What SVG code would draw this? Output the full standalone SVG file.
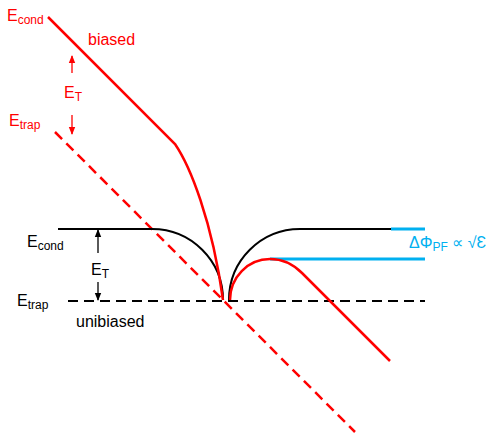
<svg xmlns="http://www.w3.org/2000/svg" width="491" height="434" viewBox="0 0 491 434">
<defs>
<style>
text{font-family:"Liberation Sans",Arial,sans-serif;font-size:16px}
.r{fill:#FF0000}.k{fill:#000}.b{fill:#00B0F0}
.sub{font-size:12px}
.rl{stroke:#FF0000;fill:none;stroke-width:2.5}
.kl{stroke:#000;fill:none;stroke-width:2}
.bl{stroke:#00B0F0;fill:none;stroke-width:3}
.dash{stroke-dasharray:10 6}
</style>
<marker id="ar" viewBox="0 0 8 8" refX="7" refY="4" markerWidth="8" markerHeight="8" markerUnits="userSpaceOnUse" orient="auto"><path d="M0,0.8 L8,4 L0,7.2 z" fill="#FF0000"/></marker>
<marker id="ak" viewBox="0 0 8 8" refX="7" refY="4" markerWidth="8" markerHeight="8" markerUnits="userSpaceOnUse" orient="auto"><path d="M0,0.8 L8,4 L0,7.2 z" fill="#000"/></marker>
</defs>
<g id="connectors">
<path class="kl dash" d="M68,301 H425" stroke-width="2.5"/>
<path class="rl dash" d="M55,132 L355,432"/>
<path class="kl" d="M58,229 H152" stroke-width="3"/>
<path class="kl" d="M152,229 A71,71 0 0 1 223,300"/>
<path class="kl" d="M229,300 A71,71 0 0 1 300,229"/>
<path class="kl" d="M300,229 H391" stroke-width="3"/>
<path class="bl" d="M391,229 H425"/>
<path class="bl" d="M270,259 H425"/>
<path class="rl" d="M48,17 L175,144 C190,166 212,220 223,300"/>
<path class="rl" d="M230,300 A40,41 0 0 1 270,259 Q288,259 302,273 L390,361"/>
<path stroke="#FF0000" stroke-width="1.3" d="M72,73 V56" marker-end="url(#ar)"/>
<path stroke="#FF0000" stroke-width="1.3" d="M72,115 V134" marker-end="url(#ar)"/>
<path stroke="#000" stroke-width="1.3" d="M98,253 V230" marker-end="url(#ak)"/>
<path stroke="#000" stroke-width="1.3" d="M98,282 V300" marker-end="url(#ak)"/>
</g>
<g id="biased-labels">
<text class="r" x="7" y="21">E<tspan class="sub" dy="3">cond</tspan></text>
<text class="r" x="88" y="45" font-size="16.5">biased</text>
<text class="r" x="64" y="98">E<tspan class="sub" dy="3">T</tspan></text>
<text class="r" x="9" y="126">E<tspan class="sub" dy="3">trap</tspan></text>
</g>
<g id="unbiased-labels">
<text class="k" x="27" y="247">E<tspan class="sub" dy="3">cond</tspan></text>
<text class="k" x="91" y="275">E<tspan class="sub" dy="3">T</tspan></text>
<text class="k" x="17" y="306">E<tspan class="sub" dy="3">trap</tspan></text>
<text class="k" x="76" y="327" font-size="17">unibiased</text>
</g>
<g id="barrier-label">
<text class="b" x="409" y="248" font-size="17">ΔΦ<tspan class="sub" dy="3">PF</tspan><tspan dy="-3"> ∝ √Ɛ</tspan></text>
</g>
</svg>
